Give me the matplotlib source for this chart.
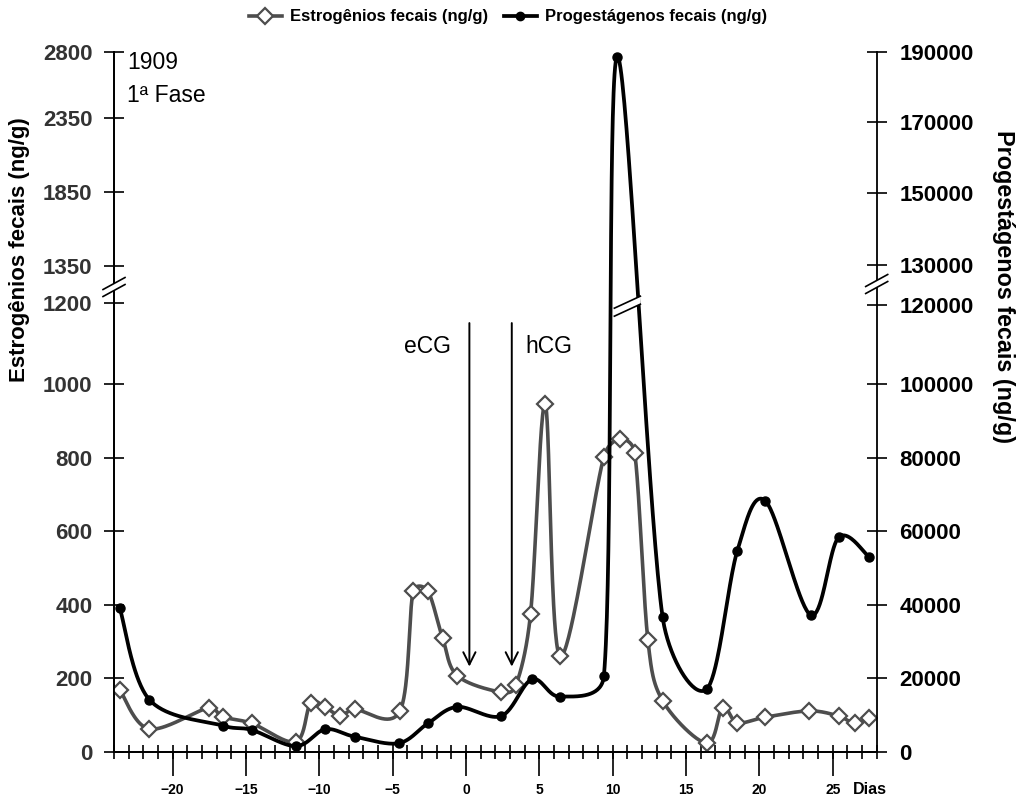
import numpy as np
import matplotlib
matplotlib.use("Agg")
import matplotlib.pyplot as plt
from matplotlib.lines import Line2D
from matplotlib.patches import Polygon
from matplotlib.transforms import IdentityTransform
from matplotlib.ticker import FixedLocator, MultipleLocator, NullLocator

plt.rcParams['font.family'] = ['Liberation Sans', 'DejaVu Sans']

# dados
estr_dias = [-23.6, -21.6, -17.5, -16.6, -14.6, -11.6, -10.6, -9.6, -8.6, -7.6,
             -4.5, -3.6, -2.6, -1.6, -0.6, 2.4, 3.4, 4.4, 5.4, 6.4,
             9.4, 10.5, 11.5, 12.4, 13.4, 16.4, 17.5, 18.5, 20.4, 23.4,
             25.4, 26.5, 27.5]
estr_val = [168, 62, 120, 95, 77, 27, 132, 121, 98, 115,
            111, 437, 437, 310, 207, 162, 181, 375, 946, 260,
            803, 851, 814, 304, 139, 23, 120, 79, 94, 111,
            97, 77, 91]

prog_dias = [-23.6, -21.6, -16.6, -14.6, -11.6, -9.6, -7.6, -4.6, -2.6, -0.6,
             2.4, 4.5, 6.4, 9.4, 10.3, 13.4, 16.4, 18.5, 20.4, 23.5,
             25.4, 27.5]
prog_val = [39000, 14200, 7100, 5900, 1500, 6100, 4100, 2300, 7700, 12200,
            9700, 19700, 15000, 20600, 188600, 36700, 17000, 54700, 68300, 37200,
            58300, 52900]

left_ticks = [0, 200, 400, 600, 800, 1000, 1200, 1350, 1850, 2350, 2800]
right_ticks = [0, 20000, 40000, 60000, 80000, 100000, 120000,
               130000, 150000, 170000, 190000]
x_ticks = [-20, -15, -10, -5, 0, 5, 10, 15, 20, 25]

# eixo quebrado: valor -> altura em pixels acima do eixo x
left_kv = [0, 1000, 1200, 1350, 1850, 2350, 2800]
left_ku = [0, 367.5, 448.4, 485.4, 559.4, 633.4, 700]
right_kv = [0, 100000, 120000, 130000, 150000, 170000, 190000]
right_ku = [0, 367.5, 446.7, 486.7, 559, 630, 700]


def make_scale(kv, ku):
    kv = np.asarray(kv, float)
    ku = np.asarray(ku, float)
    s0 = (ku[1] - ku[0]) / (kv[1] - kv[0])
    s1 = (ku[-1] - ku[-2]) / (kv[-1] - kv[-2])
    big = 1e7
    kv2 = np.r_[kv[0] - big, kv, kv[-1] + big]
    ku2 = np.r_[ku[0] - big * s0, ku, ku[-1] + big * s1]
    return (lambda v: np.interp(v, kv2, ku2)), (lambda u: np.interp(u, ku2, kv2))


fwd_l, inv_l = make_scale(left_kv, left_ku)
fwd_r, inv_r = make_scale(right_kv, right_ku)

PX_DIA = 762.7 / 52


def smooth(xs, vs, fwd, inv, n=40):
    # suavização tipo Excel (bezier), calculada em pixels
    P = np.column_stack([np.asarray(xs) * PX_DIA, fwd(np.asarray(vs, float))])
    segs = []
    for i in range(len(P) - 1):
        p0 = P[i - 1] if i > 0 else P[i]
        p1, p2 = P[i], P[i + 1]
        p3 = P[i + 2] if i + 2 < len(P) else P[i + 1]
        d12 = np.hypot(*(p2 - p1))
        d02 = np.hypot(*(p2 - p0))
        d13 = np.hypot(*(p3 - p1))
        f1 = 1 / 6 if d02 / 6 < d12 / 2 else d12 / (2 * d02)
        f2 = 1 / 6 if d13 / 6 < d12 / 2 else d12 / (2 * d13)
        c1 = p1 + f1 * (p2 - p0)
        c2 = p2 - f2 * (p3 - p1)
        t = np.linspace(0, 1, n)[:, None]
        segs.append((1 - t) ** 3 * p1 + 3 * (1 - t) ** 2 * t * c1
                    + 3 * (1 - t) * t ** 2 * c2 + t ** 3 * p2)
    C = np.vstack(segs)
    return C[:, 0] / PX_DIA, inv(C[:, 1])


fig = plt.figure(figsize=(10.16, 7.98), dpi=100)
ax = fig.add_axes([114 / 1016, 46.3 / 798, 762.7 / 1016, 700 / 798])
ax2 = ax.twinx()

ax.set_yscale('function', functions=(fwd_l, inv_l))
ax2.set_yscale('function', functions=(fwd_r, inv_r))
ax.set_ylim(0, 2800)
ax2.set_ylim(0, 190000)
ax.set_xlim(-24, 28)

gray = '#4d4d4d'
sx, sy = smooth(estr_dias, estr_val, fwd_l, inv_l)
ax.plot(sx, sy, color=gray, lw=2.6, solid_capstyle='round')
ax.plot(estr_dias, estr_val, ls='none', marker='D', ms=8.5, mfc='white',
        mec=gray, mew=1.6, zorder=3)

px, py = smooth(prog_dias, prog_val, fwd_r, inv_r)
ax2.plot(px, py, color='black', lw=2.7, solid_capstyle='round')
ax2.plot(prog_dias, prog_val, ls='none', marker='o', ms=6.5, color='black')

# setas eCG / hCG
for xd in [0.23, 3.12]:
    ax.annotate('', xy=(xd, 224), xytext=(xd, 1158),
                arrowprops=dict(arrowstyle='->', color='black', lw=1.4,
                                mutation_scale=22))
ax.text(-2.6, 1092, 'eCG', fontsize=16.5, ha='center', va='center')
ax.text(5.64, 1092, 'hCG', fontsize=16.5, ha='center', va='center')
ax.text(0.017, 0.984, '1909', transform=ax.transAxes, fontsize=16.5, va='center')
ax.text(0.017, 0.937, '1ª Fase', transform=ax.transAxes, fontsize=16.5, va='center')

# eixos
for a in (ax, ax2):
    a.spines['top'].set_visible(False)
    for s in a.spines.values():
        s.set_linewidth(1.3)
ax.spines['right'].set_visible(False)

ax.yaxis.set_major_locator(FixedLocator(left_ticks))
ax.yaxis.set_minor_locator(NullLocator())
ax.set_yticklabels([str(t) for t in left_ticks])
ax.tick_params(axis='y', direction='inout', length=14, width=1.2, pad=8.5,
               labelsize=16, labelcolor='#333333')
ax2.yaxis.set_major_locator(FixedLocator(right_ticks))
ax2.yaxis.set_minor_locator(NullLocator())
ax2.set_yticklabels([str(t) for t in right_ticks])
ax2.tick_params(axis='y', direction='inout', length=14, width=1.2, pad=9.5,
                labelsize=16, labelcolor='black')
for lab in ax.get_yticklabels() + ax2.get_yticklabels():
    lab.set_fontweight('bold')

ax.xaxis.set_major_locator(FixedLocator(x_ticks))
ax.xaxis.set_minor_locator(MultipleLocator(1))
ax.xaxis.remove_overlapping_locs = False
ax.tick_params(axis='x', which='major', direction='out', length=17, width=1.2,
               pad=5.5, labelsize=10)
ax.tick_params(axis='x', which='minor', direction='inout', length=10, width=1.2)
for lab in ax.get_xticklabels():
    lab.set_fontweight('bold')

fig.text(870 / 1016, 1 - 790 / 798, 'Dias', fontsize=11.5, fontweight='bold',
         ha='center', va='center')
fig.text(20 / 1016, 1 - 250 / 798, 'Estrogênios fecais (ng/g)', rotation=90,
         fontsize=16, fontweight='bold', ha='center', va='center')
fig.text(1003 / 1016, 1 - 286 / 798, 'Progestágenos fecais (ng/g)', rotation=270,
         fontsize=16.8, fontweight='bold', ha='center', va='center')

handles = [Line2D([], [], color=gray, lw=2.6, marker='D', ms=8.5, mfc='white',
                  mec=gray, mew=1.6),
           Line2D([], [], color='black', lw=2.7, marker='o', ms=6)]
fig.legend(handles, ['Estrogênios fecais (ng/g)', 'Progestágenos fecais (ng/g)'],
           loc='center', bbox_to_anchor=(0.5, 1 - 17 / 798), ncol=2, frameon=False,
           prop=dict(weight='bold', size=12), handlelength=2.0,
           columnspacing=0.9, handletextpad=0.5)


# marcas de quebra "//"
def break_mark(xd, yd, dx=11, dy=6, sep=3.5):
    poly = Polygon([(xd - dx, yd - dy - sep), (xd + dx, yd + dy - sep),
                    (xd + dx, yd + dy + sep), (xd - dx, yd - dy + sep)],
                   closed=True, facecolor='white', edgecolor='none',
                   transform=IdentityTransform(), zorder=10)
    fig.add_artist(poly)
    for s in (-sep, sep):
        fig.add_artist(Line2D([xd - dx, xd + dx], [yd - dy + s, yd + dy + s],
                              color='black', lw=1.2,
                              transform=IdentityTransform(), zorder=11))


fig.canvas.draw()
bx, by = ax.transData.transform((-24, 1266))
break_mark(bx, by)
bx, by = ax2.transData.transform((28, 125250))
break_mark(bx, by)
bx, by = ax2.transData.transform((11.0, 119700))
break_mark(bx, by, dx=13, dy=6, sep=4)

fig.savefig('out.png', dpi=100)
